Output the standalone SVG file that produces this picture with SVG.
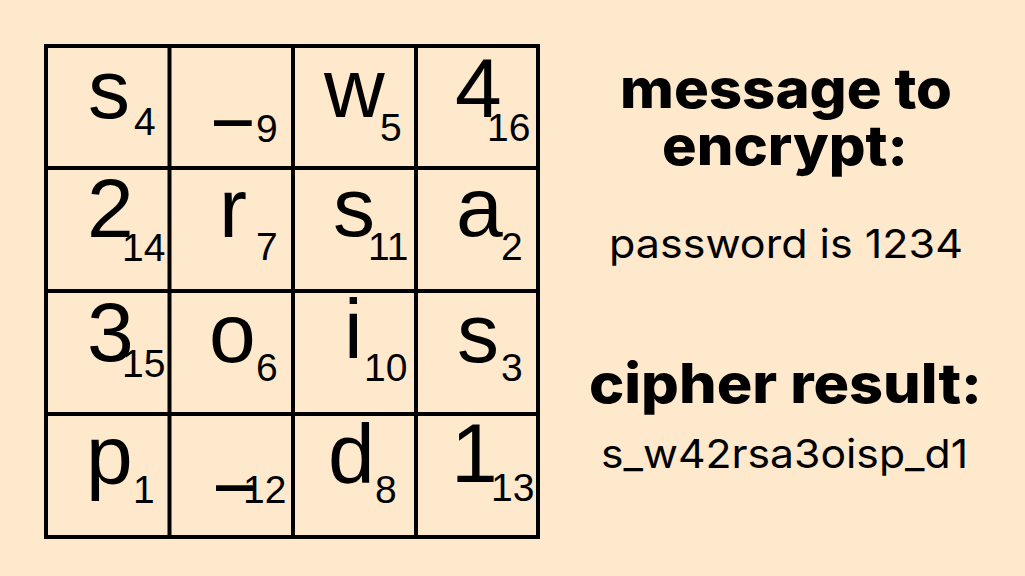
<svg xmlns="http://www.w3.org/2000/svg" width="1025" height="576" viewBox="0 0 1025 576">
<style>
.bg{fill:#fee9cd}
.grid{stroke:#000;stroke-width:4;fill:none;stroke-linecap:square}
.m{font-family:"Liberation Sans",Arial,sans-serif;font-size:84px;fill:#000}
.s{font-family:"Liberation Sans",Arial,sans-serif;font-size:39px;fill:#000}
.u{font-family:"Liberation Sans",Arial,sans-serif;font-size:90px;fill:#000}
.h{font-family:Inter,"Open Sans","Liberation Sans",sans-serif;font-weight:800;font-size:55px;fill:#000}
.t{font-family:Inter,"Open Sans","Liberation Sans",sans-serif;font-weight:400;font-size:40px;fill:#000}
</style>
<rect class="bg" x="0" y="0" width="1025" height="576"/>
<g id="grid">
<rect class="grid" x="46" y="46" width="492" height="491"/>
<line class="grid" x1="169.5" y1="46" x2="169.5" y2="537"/>
<line class="grid" x1="293" y1="46" x2="293" y2="537"/>
<line class="grid" x1="416" y1="46" x2="416" y2="537"/>
<line class="grid" x1="46" y1="168" x2="538" y2="168"/>
<line class="grid" x1="46" y1="291" x2="538" y2="291"/>
<line class="grid" x1="46" y1="414" x2="538" y2="414"/>
</g>
<g id="cell-1-1"><text class="m" x="88" y="118">s</text><text class="s" x="134" y="135">4</text></g>
<g id="cell-1-2"><text class="u" x="215" y="107.5" textLength="36" lengthAdjust="spacingAndGlyphs">_</text><text class="s" x="256" y="142">9</text></g>
<g id="cell-1-3"><text class="m" x="324" y="117">w</text><text class="s" x="380" y="141">5</text></g>
<g id="cell-1-4"><text class="m" x="455" y="117">4</text><text class="s" x="487" y="141">16</text></g>
<g id="cell-2-1"><text class="m" x="87" y="237">2</text><text class="s" x="122" y="261">14</text></g>
<g id="cell-2-2"><text class="m" x="219" y="237">r</text><text class="s" x="256" y="260">7</text></g>
<g id="cell-2-3"><text class="m" x="333" y="236">s</text><text class="s" x="368" y="260">11</text></g>
<g id="cell-2-4"><text class="m" x="456" y="236">a</text><text class="s" x="501" y="260">2</text></g>
<g id="cell-3-1"><text class="m" x="87" y="361">3</text><text class="s" x="122" y="377">15</text></g>
<g id="cell-3-2"><text class="m" x="209" y="362">o</text><text class="s" x="256" y="381">6</text></g>
<g id="cell-3-3"><text class="m" x="344" y="358">i</text><text class="s" x="364" y="381">10</text></g>
<g id="cell-3-4"><text class="m" x="457" y="362">s</text><text class="s" x="501" y="381">3</text></g>
<g id="cell-4-1"><text class="m" x="86" y="484">p</text><text class="s" x="133" y="503">1</text></g>
<g id="cell-4-2"><text class="u" x="217" y="472.5" textLength="36" lengthAdjust="spacingAndGlyphs">_</text><text class="s" x="243" y="503">12</text></g>
<g id="cell-4-3"><text class="m" x="328" y="483">d</text><text class="s" x="375" y="503">8</text></g>
<g id="cell-4-4"><text class="m" x="451" y="482">1</text><text class="s" x="491" y="501">13</text></g>
<g id="message">
<text class="h" x="620" y="108" textLength="332" lengthAdjust="spacingAndGlyphs">message to</text>
<text class="h" x="662" y="165" textLength="246" lengthAdjust="spacingAndGlyphs">encrypt:</text>
<text class="t" x="609" y="258" textLength="354" lengthAdjust="spacingAndGlyphs">password is 1234</text>
</g>
<g id="cipher">
<text class="h" x="589" y="403" textLength="393" lengthAdjust="spacingAndGlyphs">cipher result:</text>
<text class="t" x="601" y="468" textLength="367" lengthAdjust="spacingAndGlyphs">s_w42rsa3oisp_d1</text>
</g>
</svg>
